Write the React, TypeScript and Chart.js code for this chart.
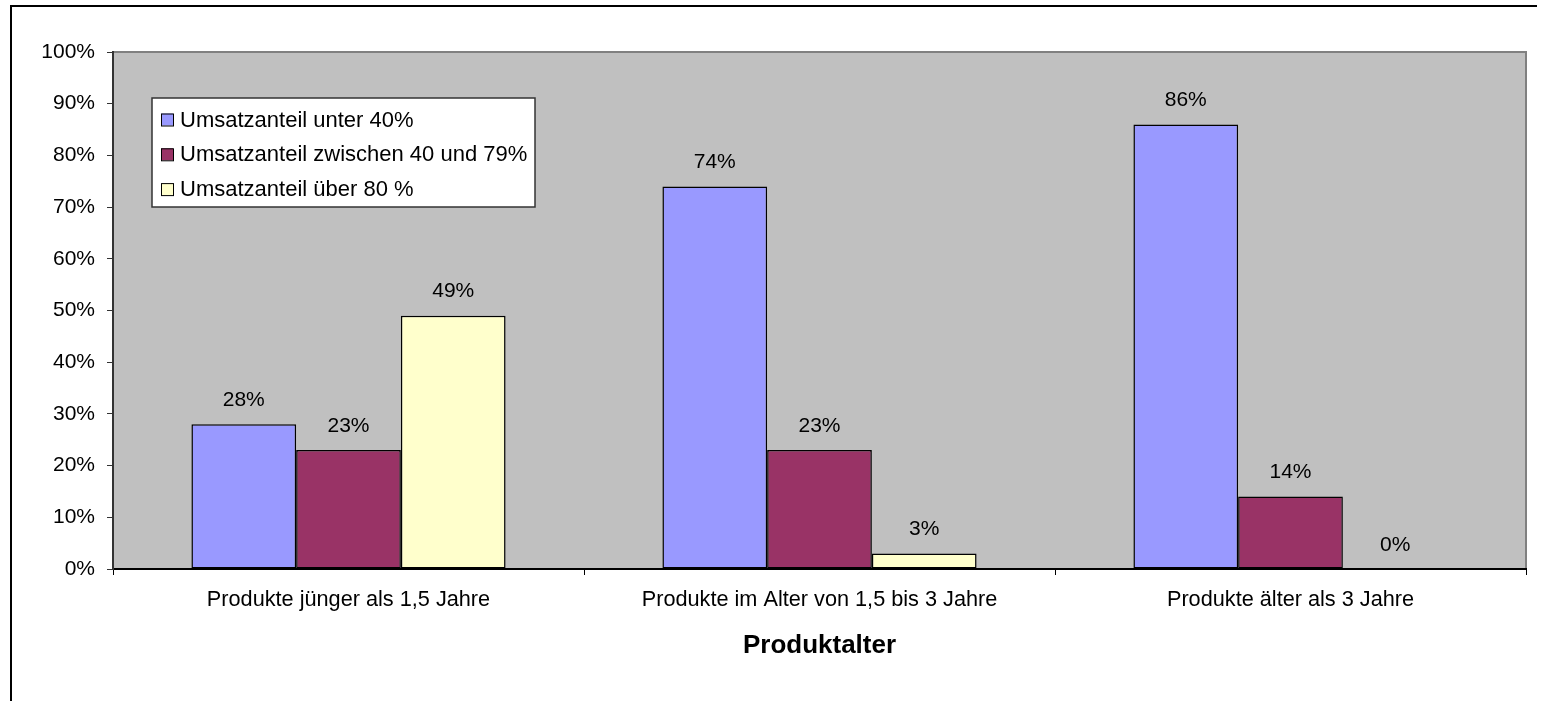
import React, { useEffect, useRef } from "react";
import { Chart, registerables } from "chart.js";

Chart.register(...registerables);

const categories = [
  "Produkte jünger als 1,5 Jahre",
  "Produkte im Alter von 1,5 bis 3 Jahre",
  "Produkte älter als 3 Jahre",
];
const seriesNames = [
  "Umsatzanteil unter 40%",
  "Umsatzanteil zwischen 40 und 79%",
  "Umsatzanteil über 80 %",
];
const under40 = [28, 74, 86];
const between40and79 = [23, 23, 14];
const over80 = [49, 3, 0];
const seriesColors = ["#9999FF", "#993366", "#FFFFCC"];
const axisTitle = "Produktalter";

const FONT = "'Liberation Sans', Arial, Helvetica, sans-serif";

export default function App() {
  const ref = useRef<HTMLCanvasElement | null>(null);

  useEffect(() => {
    if (!ref.current) return;

    const bgPlugin = {
      id: "plotBg",
      beforeDraw(chart: any) {
        const { ctx, chartArea: a } = chart;
        ctx.save();
        ctx.fillStyle = "#ffffff";
        ctx.fillRect(0, 0, chart.width, chart.height);
        // outer frame
        ctx.strokeStyle = "#000";
        ctx.lineWidth = 2;
        ctx.beginPath();
        ctx.moveTo(11, 720);
        ctx.lineTo(11, 6);
        ctx.lineTo(1537, 6);
        ctx.stroke();
        ctx.fillStyle = "#C0C0C0";
        ctx.fillRect(a.left, a.top, a.right - a.left, a.bottom - a.top);
        ctx.strokeStyle = "#808080";
        ctx.lineWidth = 2;
        ctx.beginPath();
        ctx.moveTo(a.left, a.top);
        ctx.lineTo(a.right, a.top);
        ctx.lineTo(a.right, a.bottom);
        ctx.stroke();
        ctx.restore();
      },
    };

    const labelPlugin = {
      id: "valueLabels",
      afterDatasetsDraw(chart: any) {
        const { ctx } = chart;
        ctx.save();
        ctx.font = `21px ${FONT}`;
        ctx.fillStyle = "#000";
        ctx.textAlign = "center";
        ctx.textBaseline = "middle";
        chart.data.datasets.forEach((ds: any, i: number) => {
          const meta = chart.getDatasetMeta(i);
          meta.data.forEach((bar: any, j: number) => {
            ctx.fillText(`${ds.data[j]}%`, bar.x, bar.y - 24);
          });
        });
        ctx.restore();
      },
    };

    const legendPlugin = {
      id: "boxLegend",
      afterDraw(chart: any) {
        const { ctx } = chart;
        const bx = 152, by = 98, bw = 383, bh = 109;
        ctx.save();
        ctx.fillStyle = "#ffffff";
        ctx.fillRect(bx, by, bw, bh);
        ctx.strokeStyle = "#333";
        ctx.lineWidth = 1.5;
        ctx.strokeRect(bx, by, bw, bh);
        ctx.font = `22px ${FONT}`;
        ctx.textBaseline = "middle";
        ctx.textAlign = "left";
        chart.data.datasets.forEach((ds: any, i: number) => {
          const cy = 119.5 + i * 34.8;
          ctx.fillStyle = ds.backgroundColor;
          ctx.fillRect(161, cy - 6, 12, 12);
          ctx.strokeStyle = "#000";
          ctx.lineWidth = 1;
          ctx.strokeRect(161.5, cy - 5.5, 12, 12);
          ctx.fillStyle = "#000";
          ctx.fillText(ds.label, 180, cy + 1);
        });
        ctx.restore();
      },
    };

    const values = [under40, between40and79, over80];

    const chart = new Chart(ref.current, {
      type: "bar",
      data: {
        labels: categories,
        datasets: values.map((v, i) => ({
          label: seriesNames[i],
          data: v,
          backgroundColor: seriesColors[i],
          borderColor: "#000",
          borderWidth: 1.5,
          borderSkipped: false,
          categoryPercentage: 0.667,
          barPercentage: 1.0,
        })),
      },
      options: {
        responsive: false,
        animation: false,
        maintainAspectRatio: false,
        layout: { padding: { top: 52, right: 20, left: 0, bottom: 0 } },
        plugins: {
          legend: { display: false },
          tooltip: { enabled: false },
          title: { display: false },
        },
        scales: {
          x: {
            grid: {
              display: true,
              drawOnChartArea: false,
              drawTicks: true,
              tickLength: 6,
              color: "#000",
              offset: true,
            },
            border: { display: true, color: "#000", width: 2 },
            ticks: {
              color: "#000",
              font: { family: FONT, size: 21.7 },
              padding: 12,
              maxRotation: 0,
              autoSkip: false,
            },
            title: {
              display: true,
              text: axisTitle,
              color: "#000",
              font: { family: FONT, size: 26, weight: "bold" },
              padding: { top: 0, bottom: 40 },
            },
            afterFit(scale: any) {
              scale.height = 132;
            },
          },
          y: {
            min: 0,
            max: 100,
            grid: {
              display: true,
              drawOnChartArea: false,
              drawTicks: true,
              tickLength: 6,
              color: "#333",
            },
            border: { display: true, color: "#333", width: 2 },
            ticks: {
              stepSize: 10,
              color: "#000",
              font: { family: FONT, size: 21 },
              padding: 12,
              callback: (v: any) => `${v}%`,
            },
            afterFit(scale: any) {
              scale.width = 113;
            },
          },
        },
      },
      plugins: [bgPlugin, labelPlugin, legendPlugin],
    } as any);

    return () => chart.destroy();
  }, []);

  return (
    <div style={{ position: "absolute", left: 0, top: 0, width: 1546, height: 701 }}>
      <canvas ref={ref} width={1546} height={701} />
    </div>
  );
}
